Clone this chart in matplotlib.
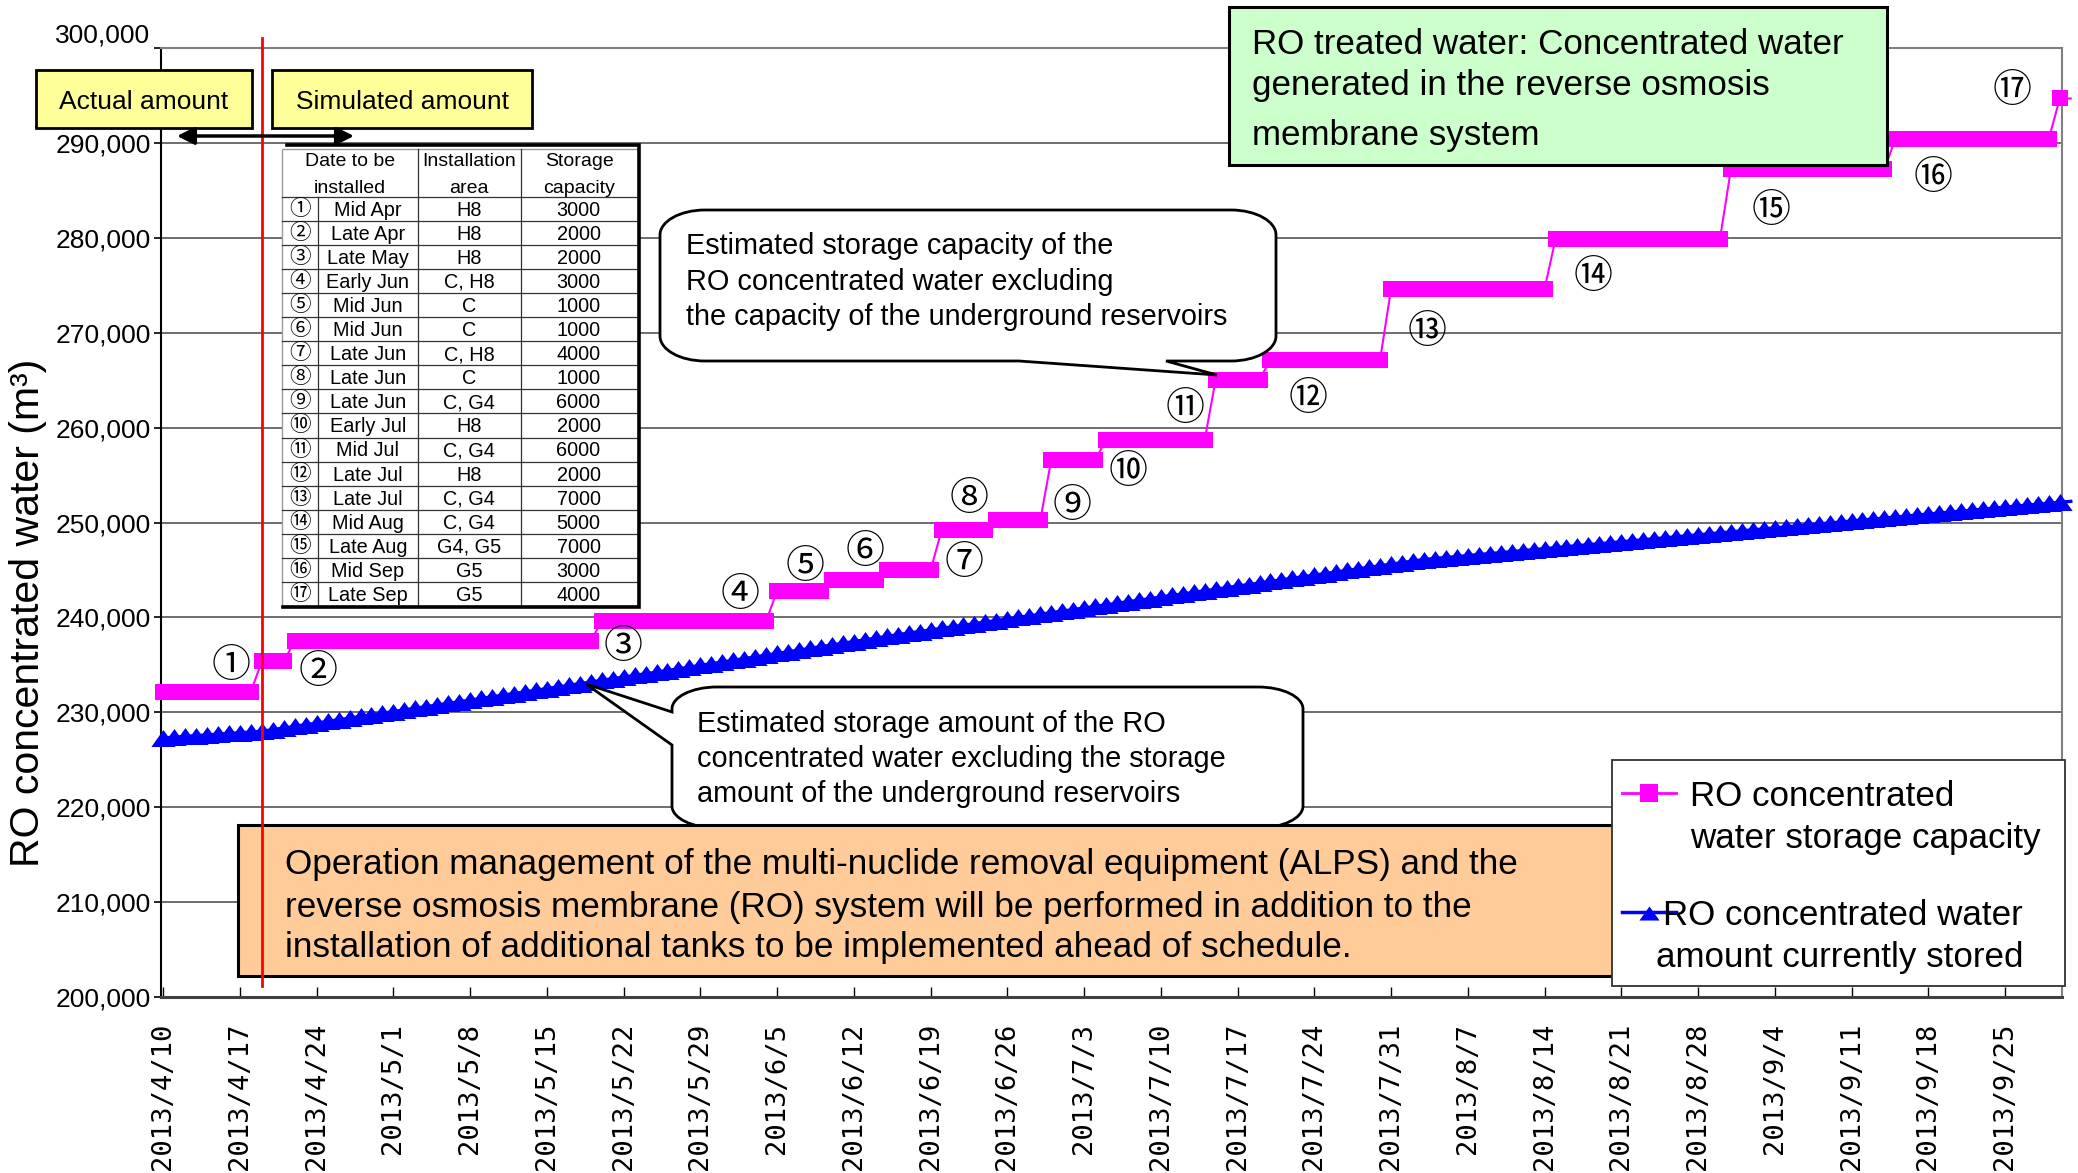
import numpy as np
import matplotlib
matplotlib.use("Agg")
import matplotlib.pyplot as plt
import matplotlib.dates as mdates
from matplotlib.path import Path
from matplotlib.patches import PathPatch, Rectangle
from matplotlib.lines import Line2D

plt.rcParams["font.family"] = ["Liberation Sans", "Noto Sans CJK JP", "DejaVu Sans"]

# ---------------------------------------------------------------- data
# daily time axis (2013/4/10 .. 2013/10/1)
days = np.arange(np.datetime64("2013-04-10"), np.datetime64("2013-10-02"))
last_plot_day = np.datetime64("2013-09-30")

# storage capacity of RO concentrated water: level changes at each tank installation
capacity_step_dates = np.array([
    "2013-04-10", "2013-04-19", "2013-04-22", "2013-05-20", "2013-06-05",
    "2013-06-10", "2013-06-15", "2013-06-20", "2013-06-25", "2013-06-30",
    "2013-07-05", "2013-07-15", "2013-07-20", "2013-07-31", "2013-08-15",
    "2013-08-31", "2013-09-15", "2013-09-30"], dtype="datetime64[D]")
capacity_step_values = [
    232180, 235380, 237500, 239600, 242820,
    243890, 244970, 249180, 250230, 256580,
    258680, 265060, 267160, 274600, 279860,
    287220, 290440, 294680]

# stored amount of RO concentrated water, one value per day (m3)
stored_daily = [
    227300, 227380, 227460, 227530, 227610, 227690, 227770, 227840, 227920, 228000,
    228170, 228350, 228520, 228690, 228870, 229040, 229210, 229380, 229560, 229730,
    229900, 230080, 230250, 230420, 230600, 230770, 230940, 231110, 231290, 231460,
    231630, 231810, 231980, 232150, 232330, 232500, 232670, 232840, 233020, 233190,
    233360, 233540, 233710, 233880, 234060, 234230, 234400, 234580, 234760, 234940,
    235120, 235300, 235480, 235660, 235840, 236020, 236200, 236380, 236560, 236740,
    236920, 237100, 237280, 237460, 237640, 237820, 238000, 238180, 238350, 238510,
    238680, 238840, 239010, 239170, 239340, 239500, 239670, 239830, 240000, 240160,
    240330, 240490, 240660, 240820, 240990, 241150, 241320, 241480, 241650, 241810,
    241980, 242140, 242310, 242470, 242640, 242800, 242970, 243130, 243300, 243460,
    243630, 243790, 243960, 244120, 244290, 244450, 244620, 244780, 244950, 245110,
    245280, 245440, 245610, 245770, 245940, 246100, 246200, 246310, 246410, 246520,
    246620, 246720, 246830, 246930, 247040, 247140, 247240, 247350, 247450, 247560,
    247660, 247760, 247870, 247970, 248080, 248180, 248280, 248390, 248490, 248600,
    248700, 248800, 248910, 249010, 249120, 249220, 249320, 249430, 249530, 249640,
    249740, 249840, 249950, 250050, 250160, 250260, 250360, 250470, 250570, 250680,
    250780, 250880, 250990, 251090, 251200, 251300, 251400, 251510, 251610, 251720,
    251820, 251920, 252030, 252130, 252230]

actual_until = np.datetime64("2013-04-19")

# tank installation schedule
install_no = ["①", "②", "③", "④", "⑤", "⑥", "⑦", "⑧", "⑨", "⑩",
              "⑪", "⑫", "⑬", "⑭", "⑮", "⑯", "⑰"]
install_when = ["Mid Apr", "Late Apr", "Late May", "Early Jun", "Mid Jun", "Mid Jun",
                "Late Jun", "Late Jun", "Late Jun", "Early Jul", "Mid Jul", "Late Jul",
                "Late Jul", "Mid Aug", "Late Aug", "Mid Sep", "Late Sep"]
install_area = ["H8", "H8", "H8", "C, H8", "C", "C", "C, H8", "C", "C, G4", "H8",
                "C, G4", "H8", "C, G4", "C, G4", "G4, G5", "G5", "G5"]
install_capacity = [3000, 2000, 2000, 3000, 1000, 1000, 4000, 1000, 6000, 2000,
                    6000, 2000, 7000, 5000, 7000, 3000, 4000]

y_ticks = list(range(200000, 300001, 10000))
x_tick_dates = np.arange(np.datetime64("2013-04-10"), np.datetime64("2013-09-26"), 7)

# ---------------------------------------------------------------- figure
W, H = 2078, 1173
fig = plt.figure(figsize=(W / 100, H / 100), dpi=100, facecolor="white")

ax = fig.add_axes([161 / W, (H - 997) / H, 1901 / W, 949 / H])
ax.set_zorder(1)

xd = mdates.date2num(days)
x0 = mdates.date2num(np.datetime64("2013-04-10"))
ax.set_xlim(x0 - 0.2, x0 + 173.2)
ax.set_ylim(200000, 300000)

# daily capacity level from the step table
step_idx = np.searchsorted(capacity_step_dates, days, side="right") - 1
capacity_daily = np.array(capacity_step_values)[step_idx]
stored = np.array(stored_daily)
in_range = days <= last_plot_day

tri = Path([(-1, -0.7), (1, -0.7), (0, 0.7), (-1, -0.7)],
           [Path.MOVETO, Path.LINETO, Path.LINETO, Path.CLOSEPOLY])

BLUE = "#0000FF"
PINK = "#FF00FF"

ax.plot(xd, stored, color=BLUE, lw=2.4, zorder=3, clip_on=False)
ax.plot(xd[in_range], stored[in_range], ls="none", marker=tri, ms=17.5, mew=0,
        color=BLUE, zorder=3, clip_on=False)
ax.plot(xd, capacity_daily, color=PINK, lw=1.5, zorder=4, clip_on=False)
ax.plot(xd[in_range], capacity_daily[in_range], ls="none", marker="s", ms=11.8,
        mew=0, color=PINK, zorder=4, clip_on=False)

ax.set_yticks(y_ticks)
ax.set_yticklabels([f"{v:,}" for v in y_ticks], fontsize=19)
for lbl in ax.get_yticklabels():
    if lbl.get_text() == "300,000":
        lbl.set_va("bottom")
ax.yaxis.grid(True, color="#555555", lw=1.2)
ax.set_axisbelow(True)
ax.tick_params(axis="y", direction="out", length=5, width=1.2, pad=2.5)

tick_labels = []
for d in x_tick_dates.astype(object):
    tick_labels.append(f"{d.year}/{d.month}/{d.day}")
ax.set_xticks(mdates.date2num(x_tick_dates))
ax.set_xticklabels(tick_labels, rotation=90, fontsize=19.5, fontfamily="DejaVu Sans Mono")
ax.tick_params(axis="x", direction="in", length=7.5, width=1.0, pad=18.5)

ax.spines["left"].set_color("black")
ax.spines["left"].set_linewidth(1.5)
ax.spines["bottom"].set_color("#404040")
ax.spines["bottom"].set_linewidth(2.2)
for s in ("top", "right"):
    ax.spines[s].set_color("#808080")
    ax.spines[s].set_linewidth(1.5)

fig.text(28 / W, 1 - 613 / H, "RO concentrated water (m³)", rotation=90,
         fontsize=29.5, ha="center", va="center")

# ---------------------------------------------------------------- annotation layer (pixel units, y downward)
ov = fig.add_axes([0, 0, 1, 1])
ov.set_zorder(2)
ov.set_xlim(0, W)
ov.set_ylim(H, 0)
ov.axis("off")
ov.patch.set_visible(False)


def txt(x, y, s, size, **kw):
    kw.setdefault("va", "baseline")
    kw.setdefault("ha", "left")
    ov.text(x, y, s, fontsize=size, **kw)


def callout(x0_, y0_, x1_, y1_, rx, ry, tail, edge):
    k = 0.5523
    v, c = [], []

    def mv(p):
        v.append(p); c.append(Path.MOVETO)

    def ln(p):
        v.append(p); c.append(Path.LINETO)

    def cv(a, b, p):
        v.extend([a, b, p]); c.extend([Path.CURVE4] * 3)

    mv((x0_ + rx, y0_))
    ln((x1_ - rx, y0_))
    cv((x1_ - rx + k * rx, y0_), (x1_, y0_ + ry - k * ry), (x1_, y0_ + ry))
    ln((x1_, y1_ - ry))
    cv((x1_, y1_ - ry + k * ry), (x1_ - rx + k * rx, y1_), (x1_ - rx, y1_))
    if edge == "bottom":
        for p in tail:
            ln(p)
    ln((x0_ + rx, y1_))
    cv((x0_ + rx - k * rx, y1_), (x0_, y1_ - ry + k * ry), (x0_, y1_ - ry))
    if edge == "left":
        for p in tail:
            ln(p)
    ln((x0_, y0_ + ry))
    cv((x0_, y0_ + ry - k * ry), (x0_ + rx - k * rx, y0_), (x0_ + rx, y0_))
    v.append((x0_ + rx, y0_)); c.append(Path.CLOSEPOLY)
    ov.add_patch(PathPatch(Path(v, c), facecolor="white", edgecolor="black", lw=2.0))


# installation table
c0, c1, c2, c3, c4 = 281.7, 318.3, 417.7, 520.7, 638.3
t_top, h_bot, row_h = 149.3, 196.7, 24.08
t_bot = h_bot + row_h * len(install_no)
ov.add_patch(Rectangle((c0, t_top), c4 - c0, t_bot - t_top, facecolor="white",
                       edgecolor="#9a9a9a", lw=1.0))
grid_kw = dict(color="#333333", lw=0.9)
ov.plot([c0, c4], [h_bot, h_bot], **grid_kw)
for i in range(1, len(install_no)):
    yy = h_bot + i * row_h
    ov.plot([c0, c4], [yy, yy], **grid_kw)
ov.plot([c1, c1], [h_bot, t_bot], **grid_kw)
ov.plot([c2, c2], [t_top, t_bot], **grid_kw)
ov.plot([c3, c3], [t_top, t_bot], **grid_kw)
ov.plot([286.7, 638.8, 638.8, 283], [145.2, 145.2, 606.5, 606.5], color="black",
        lw=2.6, solid_joinstyle="miter")

txt((c0 + c2) / 2, 166, "Date to be", 14, ha="center")
txt((c0 + c2) / 2, 193.3, "installed", 14, ha="center")
txt((c2 + c3) / 2, 166, "Installation", 14, ha="center")
txt((c2 + c3) / 2, 193.3, "area", 14, ha="center")
txt((c3 + c4) / 2, 166, "Storage", 14, ha="center")
txt((c3 + c4) / 2, 193.3, "capacity", 14, ha="center")
for i, (n, w, a, cap) in enumerate(zip(install_no, install_when, install_area,
                                        install_capacity)):
    rt = h_bot + i * row_h
    ov.text((c0 + c1) / 2, rt + row_h / 2, n, fontsize=15.5, ha="center", va="center",
            family=["Noto Sans CJK JP", "DejaVu Sans"])
    txt(368, rt + 19, w, 14.3, ha="center")
    txt((c2 + c3) / 2, rt + 19, a, 14.3, ha="center")
    txt((c3 + c4) / 2 - 1, rt + 19, f"{cap}", 14.3, ha="center")

# circled step numbers beside the capacity line
step_label_xy = [(230.7, 665.7), (318.3, 671.7), (623.3, 646.7), (740.4, 595.0),
                 (805.0, 566.7), (865.0, 551.7), (964.3, 563.3), (969.0, 499.3),
                 (1071.9, 506.0), (1127.6, 471.7), (1185.2, 409.3), (1308.4, 399.0),
                 (1427.5, 332.0), (1592.8, 276.8), (1771.4, 210.7), (1932.7, 177.5),
                 (2012.0, 91.0)]
for n, (lx, ly) in zip(install_no, step_label_xy):
    ov.text(lx, ly, n, fontsize=28, ha="center", va="center",
            family=["Noto Sans CJK JP", "DejaVu Sans"])

# Actual / simulated headers
ov.add_patch(Rectangle((36, 70), 216, 58, facecolor="#FFFF99", edgecolor="black", lw=2.0))
ov.add_patch(Rectangle((272, 70), 260, 58, facecolor="#FFFF99", edgecolor="black", lw=2.0))
txt(144, 109, "Actual amount", 19, ha="center")
txt(402, 109, "Simulated amount", 19, ha="center")
ov.annotate("", xy=(177, 136), xytext=(354, 136),
            arrowprops=dict(arrowstyle="<|-|>", color="black", lw=2.5,
                            mutation_scale=26, shrinkA=0, shrinkB=0))

# green definition box
ov.add_patch(Rectangle((1229, 7), 658, 158, facecolor="#CCFFCC", edgecolor="black", lw=2.2))
txt(1252, 53.6, "RO treated water: Concentrated water", 25.2)
txt(1252, 94.6, "generated in the reverse osmosis", 25.2)
txt(1252, 144.6, "membrane system", 25.2)

# callouts
callout(660, 210, 1276, 361, 45, 25, [(1166, 361), (1217, 375), (1019, 361)], "bottom")
txt(686, 254, "Estimated storage capacity of the", 20.8)
txt(686, 290, "RO concentrated water excluding", 20.8)
txt(686, 325, "the capacity of the underground reservoirs", 20.8)

callout(672, 687, 1303, 828, 45, 22, [(672, 745), (586, 684), (672, 712)], "left")
txt(697, 731.7, "Estimated storage amount of the RO", 20.8)
txt(697, 766.7, "concentrated water excluding the storage", 20.8)
txt(697, 801.7, "amount of the underground reservoirs", 20.8)

# orange note box
ov.add_patch(Rectangle((238, 825), 1375, 150.5, facecolor="#FFCC99", edgecolor="black", lw=2.2))
txt(285, 874.3, "Operation management of the multi-nuclide removal equipment (ALPS) and the", 25.3)
txt(285, 916.7, "reverse osmosis membrane (RO) system will be performed in addition to the", 25.3)
txt(285, 957.3, "installation of additional tanks to be implemented ahead of schedule.", 25.3)

# legend
ov.add_patch(Rectangle((1612, 760), 453, 226, facecolor="white", edgecolor="#303030", lw=1.3))
ov.add_line(Line2D([1622, 1676], [793, 793], color=PINK, lw=2.0))
ov.add_line(Line2D([1648.5], [793], ls="none", marker="s", ms=13.5, mew=0, color=PINK))
ov.add_line(Line2D([1622, 1676], [912, 912], color=BLUE, lw=2.5))
ov.add_line(Line2D([1649], [913], ls="none", marker=tri, ms=14.5, mew=0, color=BLUE))
txt(1690, 805.7, "RO concentrated", 25.2)
txt(1690, 848.3, "water storage capacity", 25.2)
txt(1663, 925, "RO concentrated water", 25.2)
txt(1656, 966.7, "amount currently stored", 25.2)

# boundary between actual and simulated amounts
red_x = ax.transData.transform((mdates.date2num(actual_until), 0))[0]
ov.add_line(Line2D([red_x, red_x], [38, 986], color="#FF0000", lw=2.0))

fig.savefig("out.png", dpi=100, facecolor="white")
